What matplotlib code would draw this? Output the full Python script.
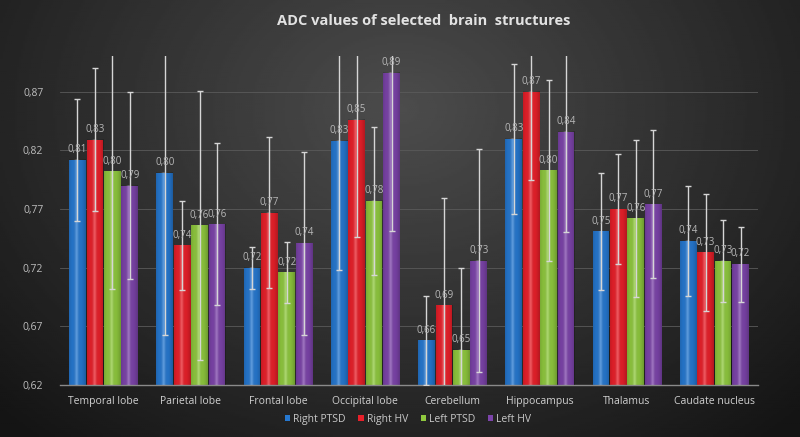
import numpy as np
import matplotlib.pyplot as plt
from matplotlib.ticker import FixedLocator, FuncFormatter

categories = ["Temporal lobe", "Parietal lobe", "Frontal lobe", "Occipital lobe",
              "Cerebellum", "Hippocampus", "Thalamus", "Caudate nucleus"]
series = ["Right PTSD", "Right HV", "Left PTSD", "Left HV"]

right_ptsd = [0.812, 0.801, 0.720, 0.828, 0.658, 0.830, 0.751, 0.743]
right_hv = [0.829, 0.739, 0.767, 0.846, 0.688, 0.870, 0.770, 0.733]
left_ptsd = [0.802, 0.756, 0.716, 0.777, 0.650, 0.803, 0.762, 0.726]
left_hv = [0.790, 0.757, 0.741, 0.886, 0.726, 0.836, 0.774, 0.723]

right_ptsd_sd = [0.052, 0.138, 0.018, 0.110, 0.038, 0.064, 0.050, 0.047]
right_hv_sd = [0.061, 0.038, 0.064, 0.100, 0.091, 0.075, 0.047, 0.050]
left_ptsd_sd = [0.100, 0.115, 0.026, 0.063, 0.070, 0.077, 0.067, 0.035]
left_hv_sd = [0.080, 0.069, 0.078, 0.135, 0.095, 0.086, 0.063, 0.032]

values = [right_ptsd, right_hv, left_ptsd, left_hv]
errors = [right_ptsd_sd, right_hv_sd, left_ptsd_sd, left_hv_sd]
colors = ["#2678d0", "#e8202a", "#8fc83e", "#7c44aa"]
y_ticks = [0.62, 0.67, 0.72, 0.77, 0.82, 0.87]

plt.rcParams['font.family'] = ['Open Sans', 'DejaVu Sans']

fig = plt.figure(figsize=(8, 4.37), dpi=100)

# fondo con degradado radial
bg = fig.add_axes([0, 0, 1, 1], zorder=-10)
yy, xx = np.mgrid[0:1:220j, 0:1:400j]
r = np.sqrt(((xx - 0.5) / 0.7) ** 2 + ((yy - 0.25) / 1.0) ** 2)
shade = np.clip(1 - r, 0, 1)
bg.imshow(0.08 + 0.22 * shade, cmap="gray", vmin=0, vmax=1, aspect="auto",
          extent=(0, 1, 0, 1), origin="upper")
bg.axis("off")

ax = fig.add_axes([0.075, 0.119, 0.8725, 0.753])
ax.patch.set_alpha(0)

# sombreado tipo cilindro
t = np.linspace(0, 1, 64)
overlay = np.zeros((1, 64, 4))
light = np.exp(-((t - 0.45) / 0.15) ** 2)
dark = np.clip(np.abs(t - 0.45) * 1.6, 0, 1) ** 2
overlay[0, :, :3] = light[:, None]
overlay[0, :, 3] = 0.25 * light + 0.3 * dark

x = np.arange(len(categories))
w = 0.2
for i, (name, vals, errs, col) in enumerate(zip(series, values, errors, colors)):
    pos = x + (i - 1.5) * w
    bars = ax.bar(pos, np.array(vals) - 0.62, w * 0.96, bottom=0.62, color=col,
                  label=name, zorder=2)
    for b in bars:
        ax.imshow(overlay, extent=(b.get_x(), b.get_x() + b.get_width(),
                                   0.62, b.get_y() + b.get_height()),
                  aspect="auto", zorder=3)
    ax.errorbar(pos, vals, yerr=errs, fmt="none", ecolor="#d6d6d6", elinewidth=1,
                capsize=2.5, capthick=1, zorder=4)
    for p, v in zip(pos, vals):
        ax.text(p, v + 0.004, f"{v:.2f}".replace(".", ","), ha="center", va="bottom",
                fontsize=7, color="#b8b8b8", zorder=5)

ax.set_xlim(-0.5, len(categories) - 0.5)
ax.set_ylim(0.62, 0.9005)
ax.yaxis.set_major_locator(FixedLocator(y_ticks))
ax.yaxis.set_major_formatter(FuncFormatter(lambda v, p: f"{v:.2f}".replace(".", ",")))
ax.grid(axis="y", color="#5a5a5a", linewidth=0.6, zorder=0)
ax.set_axisbelow(True)
ax.set_xticks(x)
ax.set_xticklabels(categories)
ax.tick_params(axis="x", length=0, pad=8, labelsize=7.5, labelcolor="#d0d0d0")
ax.tick_params(axis="y", length=0, pad=12, labelsize=7.5, labelcolor="#bdbdbd")
for s in ["top", "right", "left"]:
    ax.spines[s].set_visible(False)
ax.spines["bottom"].set_color("#8a8a8a")
ax.spines["bottom"].set_linewidth(1)

fig.text(0.53, 0.953, "ADC values of selected  brain  structures", ha="center", va="center",
         fontsize=10.5, fontweight="bold", color="#e2e2e2")

leg = fig.legend(loc="center", bbox_to_anchor=(0.51, 0.04), ncol=4, frameon=False,
                 fontsize=7.5, handlelength=0.5, handleheight=0.5, handletextpad=0.3,
                 columnspacing=1.2, labelcolor="#c8c8c8")

fig.savefig("out.png", dpi=100)
